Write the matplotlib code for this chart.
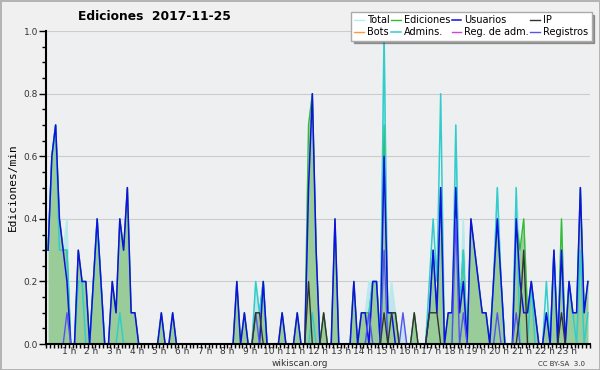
import numpy as np
import matplotlib
matplotlib.use("Agg")
import matplotlib.pyplot as plt
from matplotlib.ticker import MultipleLocator

# edits per minute, one value per 10 minutes (6 per hour, 24 rows)
total = [
    0.3, 0.6, 0.7, 0.4, 0.3, 0.4,
    0, 0, 0.3, 0.2, 0.2, 0,
    0.2, 0.4, 0.2, 0, 0, 0.2,
    0.1, 0.4, 0.3, 0.5, 0.1, 0.1,
    0, 0, 0, 0, 0, 0,
    0.1, 0, 0, 0.1, 0, 0,
    0, 0, 0, 0, 0, 0,
    0, 0, 0, 0, 0, 0,
    0, 0, 0.2, 0, 0.1, 0,
    0, 0.2, 0.1, 0.2, 0, 0,
    0, 0, 0.1, 0, 0, 0,
    0.1, 0, 0, 0.7, 0.8, 0.3,
    0, 0.1, 0, 0, 0.4, 0,
    0, 0, 0, 0.2, 0, 0.1,
    0.1, 0.2, 0.2, 0.2, 0, 1.0,
    0.1, 0.2, 0.1, 0, 0.1, 0,
    0, 0.1, 0, 0, 0, 0.1,
    0.3, 0.1, 0.5, 0, 0.1, 0.1,
    0.7, 0.1, 0.4, 0, 0.4, 0.3,
    0.2, 0.1, 0.1, 0, 0.2, 0.5,
    0.2, 0, 0, 0, 0.5, 0.3,
    0.4, 0.1, 0.2, 0.1, 0, 0,
    0.1, 0, 0.3, 0, 0.4, 0,
    0.2, 0.1, 0.1, 0.5, 0.1, 0.2,
]
ediciones = [
    0.3, 0.6, 0.7, 0.4, 0.3, 0.3,
    0, 0, 0.3, 0.2, 0.2, 0,
    0.2, 0.4, 0.2, 0, 0, 0.2,
    0.1, 0.4, 0.3, 0.5, 0.1, 0.1,
    0, 0, 0, 0, 0, 0,
    0.1, 0, 0, 0.1, 0, 0,
    0, 0, 0, 0, 0, 0,
    0, 0, 0, 0, 0, 0,
    0, 0, 0.2, 0, 0.1, 0,
    0, 0.1, 0.1, 0.2, 0, 0,
    0, 0, 0.1, 0, 0, 0,
    0.1, 0, 0, 0.7, 0.8, 0.3,
    0, 0.1, 0, 0, 0.4, 0,
    0, 0, 0, 0.2, 0, 0.1,
    0.1, 0.1, 0.2, 0.2, 0, 0.7,
    0.1, 0.1, 0.1, 0, 0, 0,
    0, 0.1, 0, 0, 0, 0.1,
    0.3, 0.1, 0.5, 0, 0.1, 0.1,
    0.5, 0.1, 0.3, 0, 0.4, 0.3,
    0.2, 0.1, 0.1, 0, 0.2, 0.4,
    0.2, 0, 0, 0, 0.4, 0.3,
    0.4, 0.1, 0.2, 0.1, 0, 0,
    0.1, 0, 0.3, 0, 0.4, 0,
    0.2, 0.1, 0.1, 0.5, 0.1, 0.2,
]
usuarios = [
    0.3, 0.6, 0.7, 0.4, 0.3, 0.2,
    0, 0, 0.3, 0.2, 0.2, 0,
    0.2, 0.4, 0.2, 0, 0, 0.2,
    0.1, 0.4, 0.3, 0.5, 0.1, 0.1,
    0, 0, 0, 0, 0, 0,
    0.1, 0, 0, 0.1, 0, 0,
    0, 0, 0, 0, 0, 0,
    0, 0, 0, 0, 0, 0,
    0, 0, 0.2, 0, 0.1, 0,
    0, 0, 0, 0.2, 0, 0,
    0, 0, 0.1, 0, 0, 0,
    0.1, 0, 0, 0.5, 0.8, 0.3,
    0, 0, 0, 0, 0.4, 0,
    0, 0, 0, 0.2, 0, 0.1,
    0.1, 0, 0.2, 0.2, 0, 0.6,
    0.1, 0.1, 0, 0, 0, 0,
    0, 0, 0, 0, 0, 0.1,
    0.3, 0.1, 0.5, 0, 0.1, 0.1,
    0.5, 0.1, 0.2, 0, 0.4, 0.3,
    0.2, 0.1, 0.1, 0, 0.2, 0.4,
    0.2, 0, 0, 0, 0.4, 0.2,
    0.1, 0.1, 0.2, 0.1, 0, 0,
    0.1, 0, 0.3, 0, 0.3, 0,
    0.2, 0.1, 0.1, 0.5, 0.1, 0.2,
]
ip = [0.0] * 144
for i, v in [(55, 0.1), (56, 0.1), (69, 0.2), (73, 0.1), (89, 0.1), (91, 0.1),
             (92, 0.1), (97, 0.1), (101, 0.1), (102, 0.1), (103, 0.1),
             (125, 0.1), (126, 0.3), (136, 0.1)]:
    ip[i] = v
admins = [
    0.3, 0.6, 0.7, 0.3, 0.3, 0.3,
    0, 0, 0.2, 0.2, 0, 0,
    0.2, 0.4, 0.2, 0, 0, 0,
    0, 0.1, 0, 0, 0, 0,
    0, 0, 0, 0, 0, 0,
    0, 0, 0, 0, 0, 0,
    0, 0, 0, 0, 0, 0,
    0, 0, 0, 0, 0, 0,
    0, 0, 0, 0, 0, 0,
    0, 0.2, 0.1, 0.2, 0, 0,
    0, 0, 0, 0, 0, 0,
    0, 0, 0, 0, 0.1, 0,
    0, 0, 0, 0, 0, 0,
    0, 0, 0, 0, 0, 0,
    0, 0.1, 0.2, 0.2, 0, 1.0,
    0, 0, 0, 0, 0, 0,
    0, 0, 0, 0, 0, 0.2,
    0.4, 0.2, 0.8, 0, 0, 0,
    0.7, 0.1, 0.3, 0, 0, 0,
    0, 0, 0, 0, 0.2, 0.5,
    0.2, 0, 0, 0, 0.5, 0,
    0, 0, 0.2, 0, 0, 0,
    0.2, 0, 0.3, 0, 0.3, 0,
    0.2, 0.1, 0, 0.3, 0, 0.1,
]
registros = [0.0] * 144
for i, v in [(5, 0.1), (55, 0.1), (85, 0.1), (89, 0.3), (94, 0.1),
             (108, 0.4), (110, 0.1), (119, 0.1), (124, 0.1)]:
    registros[i] = v
bots = [0.0] * 144
reg_adm = [0.0] * 144

hour_labels = ["%d h" % h for h in range(1, 24)]

x = (np.arange(len(total)) + 0.5) / 6.0

fig = plt.figure(figsize=(6, 3.7), dpi=100, facecolor="#f0f0f0",
                 edgecolor="#b4b4b4", linewidth=2)
ax = fig.add_axes([0.077, 0.070, 0.906, 0.846])
ax.set_facecolor("#eeeff1")

ax.fill_between(x, total, color="#c6e2ea", lw=0, zorder=1)
ax.fill_between(x, ediciones, color="#99cc99", lw=0, zorder=1.1)

ax.plot(x, total, color="#b4ecec", lw=1, label="Total", zorder=2)
ax.plot(x, bots, color="#ff9933", lw=1, label="Bots", zorder=2)
ax.plot(x, ediciones, color="#33bb33", lw=1, label="Ediciones", zorder=2.1)
ax.plot(x, admins, color="#33cccc", lw=1.1, label="Admins.", zorder=2.2)
ax.plot(x, usuarios, color="#1010e0", lw=1.1, label="Usuarios", zorder=2.3)
ax.plot(x, reg_adm, color="#cc44dd", lw=1, label="Reg. de adm.", zorder=2)
ax.plot(x, ip, color="#333333", lw=1, label="IP", zorder=2.4)
ax.plot(x, registros, color="#5555ee", lw=1, label="Registros", zorder=2.35)

ax.set_xlim(0, 24)
ax.set_ylim(0, 1.0)
ax.set_xticks(np.arange(1, 24))
ax.set_xticklabels(hour_labels)
ax.xaxis.set_minor_locator(MultipleLocator(1 / 6))
ax.yaxis.set_major_locator(MultipleLocator(0.2))
ax.yaxis.set_minor_locator(MultipleLocator(0.05))
ax.yaxis.set_major_formatter(matplotlib.ticker.FormatStrFormatter("%.1f"))
ax.tick_params(axis="both", which="both", direction="out", color="black",
               labelsize=6.5, labelcolor="#333333", width=1)
ax.tick_params(axis="x", which="major", length=3, pad=-1)
ax.tick_params(axis="x", which="minor", length=3)
ax.tick_params(axis="y", which="major", length=5, pad=1)
ax.tick_params(axis="y", which="minor", length=3)
ax.grid(axis="y", color="#cccccc", lw=0.8)
ax.set_axisbelow(True)
for s in ["top", "right"]:
    ax.spines[s].set_visible(False)
for s in ["left", "bottom"]:
    ax.spines[s].set_linewidth(1.5)

ax.set_ylabel("Ediciones/min", family="DejaVu Sans Mono", fontsize=8, labelpad=4)

fig.text(0.257, 0.955, "Ediciones  2017-11-25", ha="center", va="center",
         fontsize=8.8, fontweight="bold")
fig.text(0.5, 0.017, "wikiscan.org", ha="center", va="center",
         fontsize=6.5, color="#333333")
fig.text(0.975, 0.017, "CC BY-SA  3.0", ha="right", va="center",
         fontsize=5, color="#333333")

leg = fig.legend(loc="upper right", bbox_to_anchor=(0.986, 0.968), ncol=4,
                 fontsize=7, frameon=True, fancybox=False, shadow=True,
                 handlelength=1.0, handletextpad=0.3, columnspacing=0.15,
                 labelspacing=0.2, borderpad=0.35, borderaxespad=0)
leg.get_frame().set_edgecolor("#aaaaaa")
leg.get_frame().set_facecolor("white")
leg.get_frame().set_alpha(1)

fig.savefig("out.png", dpi=100, facecolor=fig.get_facecolor(),
            edgecolor=fig.get_edgecolor())
